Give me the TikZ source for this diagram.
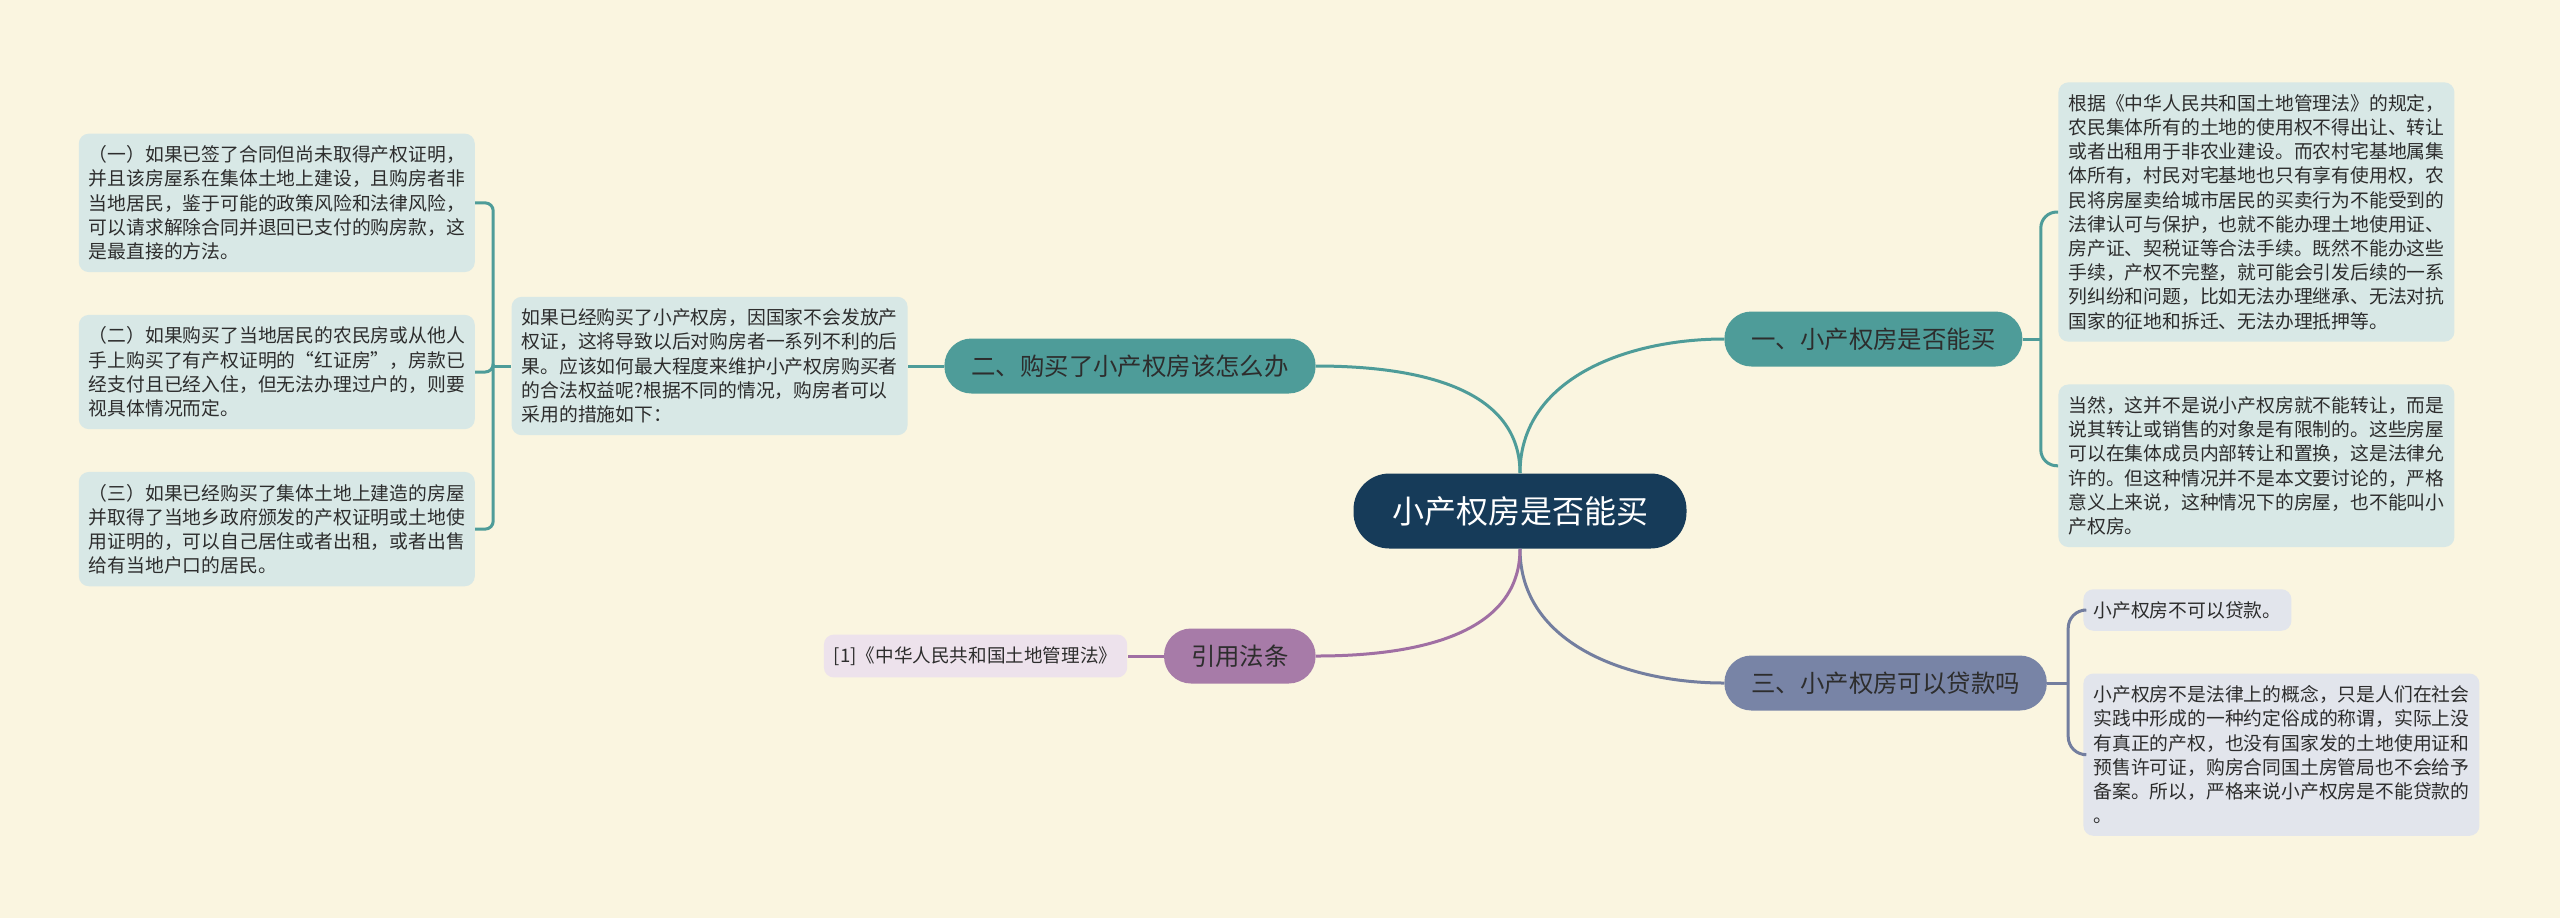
\documentclass[tikz,border=0pt]{standalone}
\usepackage{fontspec}
\setmainfont{Noto Sans CJK SC}
\usepackage{xcolor}
\usetikzlibrary{positioning}

\definecolor{paper}{HTML}{FAF5E0}
\definecolor{rootfill}{HTML}{163B59}
\definecolor{teal}{HTML}{4E9C99}
\definecolor{tealleaf}{HTML}{D8E8E6}
\definecolor{plum}{HTML}{A77BA8}
\definecolor{plumline}{HTML}{A06FA3}
\definecolor{plumleaf}{HTML}{EDE2EC}
\definecolor{slate}{HTML}{7884A6}
\definecolor{slateline}{HTML}{737E9F}
\definecolor{slateleaf}{HTML}{E2E5EC}
\definecolor{ink}{HTML}{2D2D2D}

\begin{document}
\begin{tikzpicture}[
  x=0.5pt, y=0.5pt,
  node distance=21pt and 18pt,
  rootbox/.style={fill=rootfill, text=white, rounded corners=18pt, minimum width=166.5pt, minimum height=37.5pt, font=\fontsize{16}{18}\selectfont},
  branch/.style={rounded corners=13.5pt, minimum height=27.5pt, inner xsep=13.5pt, text=ink, font=\fontsize{12.2}{14}\selectfont},
  leaf/.style={rounded corners=5pt, align=left, inner xsep=5pt, inner ysep=6pt, text=ink, font=\fontsize{9.4}{12.1}\selectfont},
  link/.style={line width=1.5pt}
]
\fill[paper] (0,0) rectangle (2560,-918);
\useasboundingbox (0,0) rectangle (2560,-918);

\node[rootbox] (root) at (1520,-511) {小产权房是否能买};

\node[branch, fill=teal, anchor=west] (b1) at (1724,-339) {一、小产权房是否能买};
\node[branch, fill=teal, anchor=east] (b2) at (1316,-366) {二、购买了小产权房该怎么办};
\node[branch, fill=slate, anchor=west] (b3) at (1724,-683) {三、小产权房可以贷款吗};
\node[branch, fill=plum, anchor=east] (b4) at (1316,-656) {引用法条};

\node[leaf, fill=tealleaf, anchor=west] (r1) at (2058,-212) {根据《中华人民共和国土地管理法》的规定，\\农民集体所有的土地的使用权不得出让、转让\\或者出租用于非农业建设。而农村宅基地属集\\体所有，村民对宅基地也只有享有使用权，农\\民将房屋卖给城市居民的买卖行为不能受到的\\法律认可与保护，也就不能办理土地使用证、\\房产证、契税证等合法手续。既然不能办这些\\手续，产权不完整，就可能会引发后续的一系\\列纠纷和问题，比如无法办理继承、无法对抗\\国家的征地和拆迁、无法办理抵押等。};
\node[leaf, fill=tealleaf, below=of r1] (r2) {当然，这并不是说小产权房就不能转让，而是\\说其转让或销售的对象是有限制的。这些房屋\\可以在集体成员内部转让和置换，这是法律允\\许的。但这种情况并不是本文要讨论的，严格\\意义上来说，这种情况下的房屋，也不能叫小\\产权房。};

\node[leaf, fill=tealleaf, left=of b2] (t2) {如果已经购买了小产权房，因国家不会发放产\\权证，这将导致以后对购房者一系列不利的后\\果。应该如何最大程度来维护小产权房购买者\\的合法权益呢?根据不同的情况，购房者可以\\采用的措施如下：};
\node[leaf, fill=tealleaf, left=of t2, yshift=-3pt] (l2) {（二）如果购买了当地居民的农民房或从他人\\手上购买了有产权证明的“红证房”，房款已\\经支付且已经入住，但无法办理过户的，则要\\视具体情况而定。};
\node[leaf, fill=tealleaf, above=of l2] (l1) {（一）如果已签了合同但尚未取得产权证明，\\并且该房屋系在集体土地上建设，且购房者非\\当地居民，鉴于可能的政策风险和法律风险，\\可以请求解除合同并退回已支付的购房款，这\\是最直接的方法。};
\node[leaf, fill=tealleaf, below=of l2] (l3) {（三）如果已经购买了集体土地上建造的房屋\\并取得了当地乡政府颁发的产权证明或土地使\\用证明的，可以自己居住或者出租，或者出售\\给有当地户口的居民。};

\node[leaf, fill=slateleaf, anchor=west] (r3a) at (2083,-610) {小产权房不可以贷款。};
\node[leaf, fill=slateleaf, below=of r3a.south west, anchor=north west] (r3b) {小产权房不是法律上的概念，只是人们在社会\\实践中形成的一种约定俗成的称谓，实际上没\\有真正的产权，也没有国家发的土地使用证和\\预售许可证，购房合同国土房管局也不会给予\\备案。所以，严格来说小产权房是不能贷款的\\。};

\node[leaf, fill=plumleaf, left=of b4, font=\fontsize{9.3}{11}\selectfont] (cite) {[1]《中华人民共和国土地管理法》};

\draw[link, teal] (root.north) to[out=90, in=180] (b1.west);
\draw[link, teal] (root.north) to[out=90, in=0] (b2.east);
\draw[link, slateline] (root.south) to[out=-90, in=180] (b3.west);
\draw[link, plumline] (root.south) to[out=-90, in=0] (b4.east);

\draw[link, teal] (b1.east) -- ++(18,0) coordinate (j1);
\draw[link, teal, rounded corners=8pt] (j1) |- (r1.west);
\draw[link, teal, rounded corners=8pt] (j1) |- (r2.west);

\draw[link, slateline] (b3.east) -- ++(21,0) coordinate (j3);
\draw[link, slateline, rounded corners=9pt] (j3) |- (r3a.west);
\draw[link, slateline, rounded corners=9pt] (j3) |- (r3b.west);

\draw[link, teal] (b2.west) -- (t2.east);
\draw[link, teal] (t2.west) -- ++(-18,0) coordinate (j2);
\draw[link, teal, rounded corners=4pt] (j2) |- (l1.east);
\draw[link, teal, rounded corners=4pt] (j2) |- (l2.east);
\draw[link, teal, rounded corners=4pt] (j2) |- (l3.east);

\draw[link, plumline] (b4.west) -- (cite.east);
\end{tikzpicture}
\end{document}
